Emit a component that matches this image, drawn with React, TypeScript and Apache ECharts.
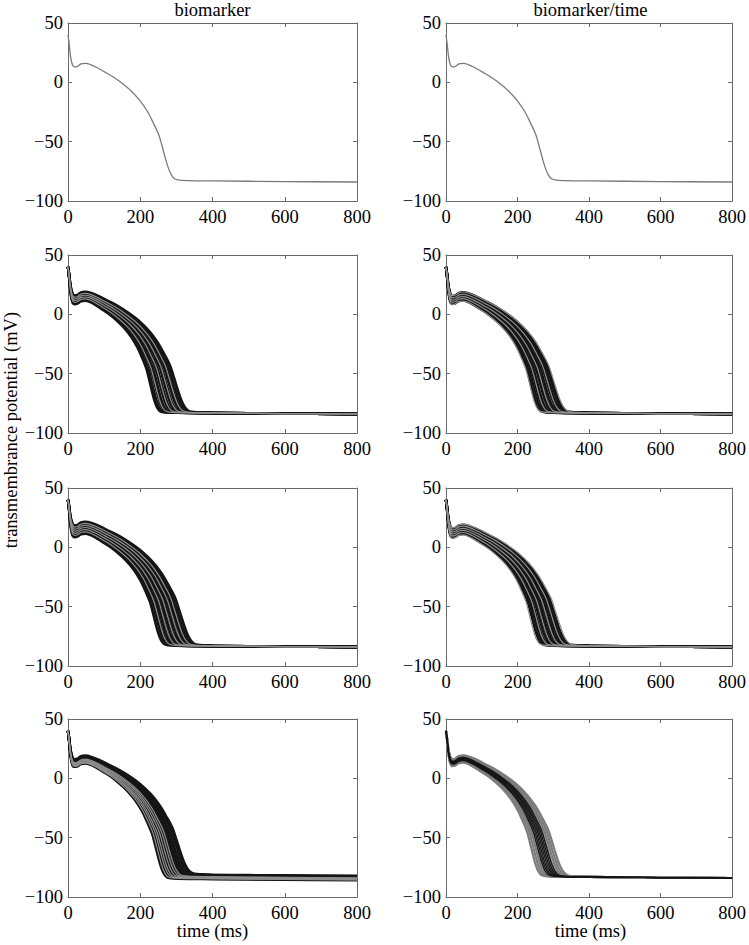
import React, { useEffect, useRef } from 'react';
import * as echarts from 'echarts';

// Base action potential (time ms, potential mV)
const BASE_T = [0, 3, 7, 12, 18, 26, 36, 48, 62, 80, 100, 125, 150, 175, 200, 220, 235, 250, 260, 269, 277, 285, 294, 307, 330, 400, 600, 800];
const BASE_V = [40, 33, 22, 15, 13, 13.5, 15.5, 16, 15, 12.5, 9, 4.5, -1, -7.5, -16, -25, -34, -44, -54.5, -64.5, -72.5, -78, -81.3, -82.4, -82.8, -83.1, -83.6, -84];
const BASE_PEAK = 16;
const BASE_APD = 256;

const X_TICKS = [0, 200, 400, 600, 800];
const Y_TICKS = [-100, -50, 0, 50];
const COLUMN_TITLES = ['biomarker', 'biomarker/time'];
const Y_TITLE = 'transmembrance potential (mV)';
const X_TITLE = 'time (ms)';

// Per-trace readings: plateau peak (mV), time of -50 mV crossing (ms), resting offset (mV)
// Row 1
const r1LeftGrayPeak = [16];
const r1LeftGrayApd = [257];
const r1RightGrayPeak = [16];
const r1RightGrayApd = [257];
// Row 2
const r2LeftBlackPeak = [11.5, 12.1, 12.9, 13.5, 14.4, 15.0, 15.8, 16.3, 17.1, 17.9, 18.4, 19.0];
const r2LeftBlackApd = [222, 227, 234, 240, 247, 252, 259, 264, 271, 277, 283, 289];
const r2LeftGrayPeak = [13.0, 14.6, 16.1, 17.6];
const r2LeftGrayApd = [235, 250, 263, 276];
const r2RightBlackPeak = [11.6, 12.3, 13.1, 13.8, 14.6, 15.3, 16.0, 16.8, 17.5, 18.1, 18.5];
const r2RightBlackApd = [231, 237, 243, 249, 256, 262, 268, 275, 281, 287, 291];
const r2RightGrayPeak = [11.2, 13.2, 15.0, 16.9, 18.8];
const r2RightGrayApd = [228, 245, 261, 277, 294];
// Row 3
const r3LeftBlackPeak = [11.5, 12.3, 13.2, 14.0, 14.8, 15.7, 16.5, 17.3, 18.2, 19.0, 19.9, 20.7, 21.5];
const r3LeftBlackApd = [232, 238, 244, 250, 256, 262, 268, 274, 280, 286, 292, 297, 303];
const r3LeftGrayPeak = [13.0, 14.9, 16.7, 18.5, 20.2];
const r3LeftGrayApd = [243, 256, 268, 280, 291];
const r3RightBlackPeak = [11.2, 12.0, 12.8, 13.6, 14.4, 15.2, 16.0, 16.8, 17.6, 18.3, 18.9];
const r3RightBlackApd = [234, 240, 246, 253, 259, 265, 271, 278, 284, 290, 296];
const r3RightGrayPeak = [10.5, 12.5, 14.3, 16.0, 17.8, 19.5];
const r3RightGrayApd = [229, 245, 259, 273, 287, 301];
// Row 4
const r4LeftBlackPeak = [12.6, 13.2, 13.8, 14.4, 15.0, 15.6, 16.2, 16.8, 17.4, 18.0, 18.6, 19.1];
const r4LeftBlackApd = [238, 243, 248, 254, 259, 264, 270, 275, 280, 285, 291, 296];
const r4LeftBlackRest = [-1.8, -1.5, -1.2, -0.8, -0.5, -0.2, 0.2, 0.5, 0.8, 1.2, 1.5, 1.8];
const r4LeftGrayPeak = [12.9, 13.6, 14.2, 14.9, 15.5, 16.2];
const r4LeftGrayApd = [241, 247, 252, 258, 264, 270];
const r4LeftGrayRest = [-1.6, -1.3, -0.9, -0.5, -0.1, 0.2];
const r4RightGrayPeak = [13.2, 13.8, 14.4, 15.0, 15.6, 16.3, 16.9, 17.5, 18.1, 18.8, 19.4];
const r4RightGrayApd = [232, 238, 244, 250, 256, 262, 268, 274, 280, 286, 292];
const r4RightBlackPeak = [14.9, 15.3, 15.8, 16.2, 16.7, 17.1, 17.6];
const r4RightBlackApd = [249, 253, 257, 261, 265, 269, 273];

type Group = { peak: number[]; apd: number[]; rest?: number[]; kind: string };

const PANELS: Group[][] = [
  [{ peak: r1LeftGrayPeak, apd: r1LeftGrayApd, kind: 'single' }],
  [{ peak: r1RightGrayPeak, apd: r1RightGrayApd, kind: 'single' }],
  [{ peak: r2LeftBlackPeak, apd: r2LeftBlackApd, kind: 'black' }, { peak: r2LeftGrayPeak, apd: r2LeftGrayApd, kind: 'gray' }],
  [{ peak: r2RightBlackPeak, apd: r2RightBlackApd, kind: 'black' }, { peak: r2RightGrayPeak, apd: r2RightGrayApd, kind: 'gray' }],
  [{ peak: r3LeftBlackPeak, apd: r3LeftBlackApd, kind: 'black' }, { peak: r3LeftGrayPeak, apd: r3LeftGrayApd, kind: 'gray' }],
  [{ peak: r3RightBlackPeak, apd: r3RightBlackApd, kind: 'black' }, { peak: r3RightGrayPeak, apd: r3RightGrayApd, kind: 'gray' }],
  [{ peak: r4LeftBlackPeak, apd: r4LeftBlackApd, rest: r4LeftBlackRest, kind: 'black' }, { peak: r4LeftGrayPeak, apd: r4LeftGrayApd, rest: r4LeftGrayRest, kind: 'gray' }],
  [{ peak: r4RightGrayPeak, apd: r4RightGrayApd, kind: 'grayWide' }, { peak: r4RightBlackPeak, apd: r4RightBlackApd, kind: 'blackThin' }],
];

function buildTrace(peak: number, apd: number, rest: number): number[][] {
  const d = peak - BASE_PEAK;
  const k = (apd - 48) / (BASE_APD - 48);
  return BASE_T.map((t, i) => {
    const v0 = BASE_V[i];
    let tt = t;
    if (t > 48 && t <= 330) tt = 48 + (t - 48) * k;
    let w: number;
    if (t < 12) w = t / 10;
    else w = Math.min(1, Math.max(0, (v0 + 82) / 98));
    let v = v0 + d * w;
    if (t >= 150) v += rest * (1 - w);
    return [tt, v];
  });
}

const STYLE: Record<string, { color: string; width: number }> = {
  single: { color: '#7a7a7a', width: 1.3 },
  black: { color: '#151515', width: 2.6 },
  gray: { color: '#8e8e8e', width: 1.2 },
  grayWide: { color: '#7c7c7c', width: 2.2 },
  blackThin: { color: '#151515', width: 1.2 },
};

const FONT = 'Liberation Serif';
const GRID_LEFT = [68, 446];
const GRID_TOP = [23, 255, 488, 719];
const GRID_W = 289;
const GRID_H = 178;

const fmt = (v: number) => String(v).replace('-', '\u2212');

export default function App() {
  const ref = useRef<HTMLDivElement>(null);
  useEffect(() => {
    if (!ref.current) return;
    const chart = echarts.init(ref.current, undefined, { renderer: 'svg' });
    const grid: any[] = [];
    const xAxis: any[] = [];
    const yAxis: any[] = [];
    const series: any[] = [];
    const axisLine = { show: true, onZero: false, lineStyle: { color: '#6a6a6a', width: 1 } };
    const axisTick = { show: true, inside: true, length: 4, lineStyle: { color: '#6a6a6a', width: 1 } };
    PANELS.forEach((groups, p) => {
      const row = Math.floor(p / 2);
      const col = p % 2;
      grid.push({ left: GRID_LEFT[col], top: GRID_TOP[row], width: GRID_W, height: GRID_H, containLabel: false });
      const xBase = { type: 'value', gridIndex: p, min: X_TICKS[0], max: X_TICKS[X_TICKS.length - 1], interval: 200, splitLine: { show: false }, axisLine, axisTick };
      const yBase = { type: 'value', gridIndex: p, min: Y_TICKS[0], max: Y_TICKS[Y_TICKS.length - 1], interval: 50, splitLine: { show: false }, axisLine, axisTick };
      xAxis.push({ ...xBase, position: 'bottom', axisLabel: { show: true, margin: 6, color: '#000', fontFamily: FONT, fontSize: 18.5, formatter: fmt } });
      xAxis.push({ ...xBase, position: 'top', axisLabel: { show: false } });
      yAxis.push({ ...yBase, position: 'left', axisLabel: { show: true, margin: 5, color: '#000', fontFamily: FONT, fontSize: 18.5, formatter: fmt } });
      yAxis.push({ ...yBase, position: 'right', axisLabel: { show: false } });
      groups.forEach((g) => {
        const st = STYLE[g.kind];
        g.peak.forEach((pk, i) => {
          series.push({
            type: 'line',
            xAxisIndex: 2 * p,
            yAxisIndex: 2 * p,
            data: buildTrace(pk, g.apd[i], g.rest ? g.rest[i] : 0),
            showSymbol: false,
            symbol: 'none',
            smooth: 0.35,
            silent: true,
            lineStyle: { color: st.color, width: st.width },
            emphasis: { disabled: true },
          });
        });
      });
    });
    const textStyle = (text: string) => ({ text, fontFamily: FONT, fontSize: 18.5, fill: '#000', align: 'center', verticalAlign: 'middle', textAlign: 'center', textVerticalAlign: 'middle' });
    const graphic: any[] = [
      { type: 'text', x: GRID_LEFT[0] + GRID_W / 2, y: 10, style: textStyle(COLUMN_TITLES[0]) },
      { type: 'text', x: GRID_LEFT[1] + GRID_W / 2, y: 10, style: textStyle(COLUMN_TITLES[1]) },
      { type: 'text', x: GRID_LEFT[0] + GRID_W / 2, y: 931, style: textStyle(X_TITLE) },
      { type: 'text', x: GRID_LEFT[1] + GRID_W / 2, y: 931, style: textStyle(X_TITLE) },
      { type: 'text', x: 11, y: 430, rotation: Math.PI / 2, style: textStyle(Y_TITLE) },
    ];
    chart.setOption({ animation: false, grid, xAxis, yAxis, series, graphic, backgroundColor: '#fff' });
    return () => chart.dispose();
  }, []);
  return <div ref={ref} style={{ position: 'absolute', left: 0, top: 0, width: 749, height: 945, background: '#fff' }} />;
}
